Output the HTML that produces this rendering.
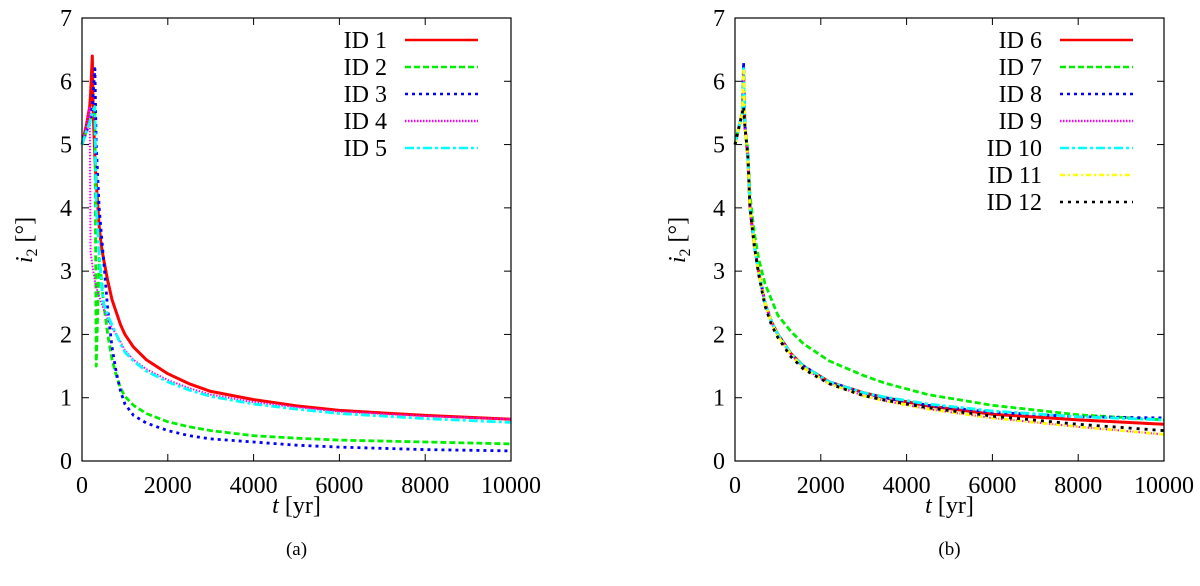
<!DOCTYPE html>
<html><head><meta charset="utf-8"><style>
html,body{margin:0;padding:0;background:#fff;}
svg{display:block;}
svg text{font-family:"Liberation Serif","Times New Roman",serif;}
</style></head><body>
<svg id="fig" width="1200" height="586" viewBox="0 0 1200 586" xmlns="http://www.w3.org/2000/svg" font-family="Liberation Serif, serif"></svg>
<script>
const tA = [0,100,180,200,240,260,300,330,400,450,500,600,700,800,900,1000,1200,1500,2000,2500,3000,4000,5000,6000,8000,10000];
const id1 = [5.0,5.3,5.6,5.8,6.4,5.5,4.8,4.4,3.7,3.4,3.2,2.85,2.55,2.35,2.15,2.0,1.8,1.6,1.38,1.22,1.1,0.97,0.87,0.8,0.72,0.66];
const id2 = [5.0,5.2,5.35,5.4,5.5,5.55,5.6,1.5,3.2,2.9,2.5,2.0,1.6,1.35,1.15,1.02,0.88,0.75,0.62,0.54,0.48,0.4,0.36,0.33,0.3,0.27];
const id3 = [5.0,5.2,5.35,5.4,5.6,5.8,6.2,5.0,4.0,3.6,3.2,2.4,1.8,1.4,1.1,0.9,0.72,0.6,0.48,0.4,0.35,0.3,0.25,0.22,0.18,0.16];
const id4 = [5.0,5.3,5.6,3.3,3.1,3.0,2.85,2.75,2.6,2.5,2.4,2.25,2.1,2.0,1.88,1.75,1.6,1.45,1.28,1.15,1.05,0.93,0.85,0.78,0.71,0.66];
const id5 = [5.0,5.2,5.35,5.4,5.5,5.55,5.6,4.0,3.3,2.8,2.5,2.3,2.15,2.0,1.85,1.72,1.58,1.42,1.25,1.12,1.02,0.9,0.82,0.75,0.67,0.61];
const tB = [0,100,170,200,230,300,350,450,550,700,850,1000,1300,1600,2200,3000,3500,4500,6000,8000,10000];
const id6 = [5.0,5.3,5.5,6.1,5.3,4.8,4.0,3.4,3.0,2.5,2.2,2.0,1.7,1.5,1.25,1.08,1.0,0.87,0.74,0.65,0.58];
const id7 = [5.0,5.3,5.5,6.2,5.3,4.9,4.2,3.6,3.2,2.8,2.55,2.3,2.05,1.85,1.58,1.35,1.23,1.05,0.88,0.73,0.65];
const id8 = [5.0,5.3,5.5,6.3,5.3,4.8,4.0,3.4,3.0,2.5,2.2,2.0,1.7,1.5,1.25,1.07,1.0,0.88,0.77,0.7,0.68];
const id9 = [5.0,5.3,5.5,6.0,5.3,4.8,4.0,3.4,3.0,2.5,2.18,1.98,1.68,1.47,1.22,1.03,0.95,0.82,0.68,0.54,0.42];
const id10 = [5.0,5.3,5.5,6.2,5.3,4.8,4.0,3.4,3.0,2.5,2.2,2.0,1.7,1.5,1.25,1.08,1.01,0.9,0.79,0.7,0.65];
const id11 = [5.0,5.3,5.5,6.2,5.3,4.8,4.0,3.4,3.0,2.5,2.18,1.98,1.68,1.47,1.22,1.03,0.95,0.82,0.68,0.54,0.42];
const id12 = [5.0,5.3,5.5,5.6,5.3,4.8,4.0,3.4,2.95,2.45,2.15,1.95,1.65,1.45,1.22,1.03,0.96,0.84,0.71,0.58,0.48];
const xTicks = [0,2000,4000,6000,8000,10000];
const yTicks = [0,1,2,3,4,5,6,7];

const NS="http://www.w3.org/2000/svg";
const svg=document.getElementById('fig');
const FF='Liberation Serif, Times New Roman, serif';
function mk(tag,attrs,parent){const e=document.createElementNS(NS,tag);for(const k in attrs)e.setAttribute(k,attrs[k]);if(tag==='text')e.setAttribute('font-family',FF);(parent||svg).appendChild(e);return e;}

function panel(x0,x1,name,series,legX,caption){
  const y0=461,y1=18;
  const g=mk('g',{});
  
  
  const sx=v=>x0+(v/10000)*(x1-x0);
  const sy=v=>y0-(v/7)*(y0-y1);
  xTicks.forEach(v=>{
    const x=sx(v);
    const t1=mk('line',{x1:x,x2:x,y1:y0,y2:y0-7,stroke:'#000','stroke-width':1},g);
    
    
    mk('line',{x1:x,x2:x,y1:y1,y2:y1+7,stroke:'#000','stroke-width':1},g);
    const tx=mk('text',{x:x,y:y0+32,'text-anchor':'middle','font-size':24},g);
    tx.textContent=v;
    
    
  });
  yTicks.forEach(v=>{
    const y=sy(v);
    const t1=mk('line',{x1:x0,x2:x0+7,y1:y,y2:y,stroke:'#000','stroke-width':1},g);
    
    
    mk('line',{x1:x1,x2:x1-7,y1:y,y2:y,stroke:'#000','stroke-width':1},g);
    const tx=mk('text',{x:x0-10,y:y+8,'text-anchor':'end','font-size':24},g);
    tx.textContent=v;
    
    
  });
  series.forEach((s,i)=>{
    const pts=s.t.map((tv,j)=>sx(tv).toFixed(1)+','+sy(s.v[j]).toFixed(1)).join(' ');
    const p=mk('polyline',{points:pts,fill:'none',stroke:s.c,'stroke-width':s.w||2.8,'stroke-dasharray':s.d||'none','stroke-linejoin':'round'},g);
    
    
    const ly=40+27*i;
    const lt=mk('text',{x:legX,y:ly+8,'text-anchor':'end','font-size':24},g);
    lt.textContent=s.n;
    
    
    const ll=mk('line',{x1:legX+18,x2:legX+91,y1:ly,y2:ly,stroke:s.c,'stroke-width':2.6,'stroke-dasharray':s.d||'none'},g);
    
    
  });
  const fr=mk('rect',{x:x0,y:y1,width:x1-x0,height:y0-y1,fill:'none',stroke:'#000','stroke-width':1.2},g);
  
  
  const cx=(x0+x1)/2;
  const xl=mk('text',{x:cx,y:513,'text-anchor':'middle','font-size':24},g);
  xl.innerHTML='<tspan font-style="italic">t</tspan> [yr]';
  
  
  const yl=mk('text',{x:0,y:0,'text-anchor':'middle','font-size':24,transform:`translate(${x0-50},240) rotate(-90)`},g);
  yl.innerHTML='<tspan font-style="italic">i</tspan><tspan font-size="16" dy="5">2</tspan><tspan dy="-5"> [°]</tspan>';
  
  
  const cp=mk('text',{x:cx,y:555,'text-anchor':'middle','font-size':19},g);
  cp.textContent=caption;
  
  
}

panel(82,511,'panel-a',[
  {n:'ID 1',t:tA,v:id1,c:'#ff0000',w:3},
  {n:'ID 2',t:tA,v:id2,c:'#00ee00',d:'6,3'},
  {n:'ID 3',t:tA,v:id3,c:'#0000ff',d:'3,4'},
  {n:'ID 4',t:tA,v:id4,c:'#ff00ff',d:'1.5,1.5',w:2},
  {n:'ID 5',t:tA,v:id5,c:'#00ffff',d:'9,3,3,3'}
],387,'(a)');
panel(735,1164,'panel-b',[
  {n:'ID 6',t:tB,v:id6,c:'#ff0000',w:3},
  {n:'ID 7',t:tB,v:id7,c:'#00ee00',d:'6,3'},
  {n:'ID 8',t:tB,v:id8,c:'#0000ff',d:'3,4'},
  {n:'ID 9',t:tB,v:id9,c:'#ff00ff',d:'1.5,1.5',w:2},
  {n:'ID 10',t:tB,v:id10,c:'#00ffff',d:'9,3,3,3'},
  {n:'ID 11',t:tB,v:id11,c:'#ffff00',d:'5,3,2,3'},
  {n:'ID 12',t:tB,v:id12,c:'#000000',d:'3,5'}
],1042,'(b)');
</script>
</body></html>
